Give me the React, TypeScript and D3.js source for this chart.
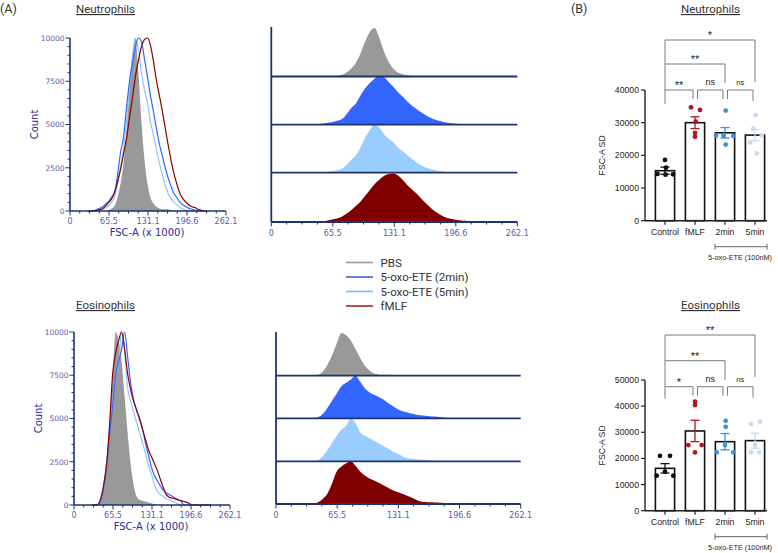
import React from "react";
import * as d3 from "d3";

// ---------- DATA ----------
// FSC-A (x 1000) bin centres
const FSC_BINS = [30, 35, 40, 45, 50, 55, 60, 65, 70, 75, 80, 85, 90, 95, 100, 105, 110, 115, 120, 125, 130, 135, 140, 145, 150, 155, 160, 165, 170, 175, 180, 185, 190, 195, 200, 205, 210, 215, 220, 225, 230];

// Neutrophils: % of mode
const NEU_PBS = [0, 0, 0, 0, 0, 0, 0, 0.5, 1.5, 3, 8, 16, 28, 47, 72, 92, 100, 80, 52, 30, 16, 8, 4.5, 2.5, 1.5, 1, 1, 1, 0.5, 0, 0, 0, 0, 0, 0, 0, 0, 0, 0, 0, 0];
const NEU_2MIN = [0, 0, 0.3, 0.8, 1.5, 2.5, 4, 5.5, 8, 11, 21, 34, 43, 60, 75, 86, 95, 100, 98, 88, 78, 67, 58, 48, 39, 32, 25, 19, 14, 10, 7.5, 5, 3.5, 2.5, 1.5, 1, 0.5, 0, 0, 0, 0];
const NEU_5MIN = [0, 0, 0, 0.3, 0.5, 1, 2, 3, 5, 8, 16, 26, 36, 52, 72, 88, 100, 93, 80, 70, 63, 52, 44, 36, 28, 21, 15, 10, 7, 5, 3.5, 2, 1, 0.5, 0, 0, 0, 0, 0, 0, 0];
const NEU_FMLF = [0, 0, 0, 0.3, 0.8, 1.5, 3, 5, 7, 11, 17, 24, 33, 42, 54, 66, 78, 87, 95, 99, 100, 96, 87, 76, 67, 58, 48, 38, 29, 21, 15, 10, 7, 5, 3.5, 2.5, 2, 1, 0.5, 0, 0];

// Eosinophils: % of mode
const EOS_PBS = [0, 0, 0.3, 2, 9, 25, 48, 75, 100, 95, 83, 63, 42, 24, 12, 5, 3, 2.5, 2, 1.5, 1, 0.5, 0, 0, 0, 0, 0, 0, 0, 0, 0, 0, 0, 0, 0, 0, 0, 0, 0, 0, 0];
const EOS_2MIN = [0, 0, 0.3, 2.5, 10, 24, 41, 58, 75, 83, 90, 100, 86, 71, 61, 55, 50, 44, 36, 29, 22, 17, 14, 11, 8.5, 7, 6, 5, 4, 3, 2, 0, 0, 0, 0, 0, 0, 0, 0, 0, 0];
const EOS_5MIN = [0, 0, 0.5, 2.5, 12, 26, 43, 60, 74, 82, 100, 90, 68, 60, 54, 48, 42, 36, 30, 23, 18, 12, 8, 6, 5, 3.5, 3, 2, 1.5, 0.5, 0, 0, 0, 0, 0, 0, 0, 0, 0, 0, 0];
const EOS_FMLF = [0, 0, 0.3, 4, 12, 24, 48, 76, 88, 95, 100, 90, 76, 67, 60, 55, 50, 44, 38, 32, 28, 24, 20, 15, 10, 6, 4.5, 4, 3.5, 3, 2.5, 2, 1.5, 0.5, 0, 0, 0, 0, 0, 0, 0];

const FSC_TICKS = [0, 65.5, 131.1, 196.6, 262.1];
const FSC_TICK_LABELS = ["0", "65.5", "131.1", "196.6", "262.1"];
const COUNT_TICKS = [0, 2500, 5000, 7500, 10000];

const LEGEND_LABELS = ["PBS", "5-oxo-ETE (2min)", "5-oxo-ETE (5min)", "fMLF"];

const CATEGORIES = ["Control", "fMLF", "2min", "5min"];
const NEU_MEANS = [15300, 30000, 26900, 26200];
const NEU_SEM = [1100, 1800, 1600, 1700];
const NEU_POINTS = [
  [18600, 16200, 14300, 14100, 14200],
  [34700, 33900, 30300, 26900, 25700],
  [33700, 26000, 26100, 25900, 23300],
  [32300, 28200, 26200, 23900, 20600],
];
const NEU_TICKS = [0, 10000, 20000, 30000, 40000];
const NEU_SIG = [
  ["Control", "fMLF", "**"],
  ["fMLF", "2min", "ns"],
  ["2min", "5min", "ns"],
  ["Control", "2min", "**"],
  ["Control", "5min", "*"],
];

const EOS_MEANS = [16200, 30500, 26400, 26800];
const EOS_SEM = [1800, 4100, 3100, 2900];
const EOS_POINTS = [
  [21000, 21000, 14900, 13400, 13400],
  [41700, 40400, 25100, 25100, 22300],
  [34400, 32100, 25100, 22300, 22300],
  [33200, 34100, 25100, 22300, 22300],
];
const EOS_TICKS = [0, 10000, 20000, 30000, 40000, 50000];
const EOS_SIG = [
  ["Control", "fMLF", "*"],
  ["fMLF", "2min", "ns"],
  ["2min", "5min", "ns"],
  ["Control", "2min", "**"],
  ["Control", "5min", "**"],
];

// ---------- STYLE ----------
const NAVY = "#1d3270";
const TICKTXT = "#5a5aae";
const LBLTXT = "#2b2b98";
const HFONT = "DejaVu Sans, Verdana, sans-serif";
const BFONT = "Liberation Sans, Arial, sans-serif";
const TFONT = "Roboto, sans-serif";
const FILL = ["#999999", "#3366ff", "#99ccff", "#800000"];
const LINE = ["#9a9a9a", "#3366ff", "#8ec6ff", "#8b0000"];
const LEG = ["#9a9a9a", "#4060d8", "#6cc0ff", "#9b2a2a"];
const DOT = ["#111111", "#b3161c", "#3d8fe0", "#c5dbf3"];

const MINOR_STEP = 65.525 / 4;

function XAxisTicks({ x, y, labelDy }: any) {
  const minors = d3.range(0, 262.2, MINOR_STEP);
  return (
    <g>
      {minors.map((v, i) => (
        <line key={"m" + i} x1={x(v)} x2={x(v)} y1={y} y2={y + (i % 4 === 0 ? 4.5 : 2.5)} stroke={NAVY} strokeWidth={1} />
      ))}
      {FSC_TICKS.map((v, i) => (
        <text key={"t" + i} x={x(v)} y={y + labelDy} textAnchor="middle" fontFamily={HFONT} fontSize={8} fill={TICKTXT}>
          {FSC_TICK_LABELS[i]}
        </text>
      ))}
    </g>
  );
}

function OverlayHist({ x0, x1, yTop, yBot, series, labelCx }: any) {
  const x = d3.scaleLinear().domain([0, 262.1]).range([x0, x1]);
  const y = d3.scaleLinear().domain([0, 10000]).range([yBot, yTop]);
  const area = d3
    .area<number>()
    .x((_, i) => x(FSC_BINS[i]))
    .y0(yBot)
    .y1((d) => y(d * 100))
    .curve(d3.curveMonotoneX);
  const line = d3
    .line<number>()
    .x((_, i) => x(FSC_BINS[i]))
    .y((d) => y(d * 100))
    .curve(d3.curveMonotoneX);
  const minorY = d3.range(0, 10001, 500);
  return (
    <g>
      <path d={area(series[0]) || ""} fill={FILL[0]} />
      <path d={line(series[2]) || ""} fill="none" stroke={LINE[2]} strokeWidth={1.2} />
      <path d={line(series[1]) || ""} fill="none" stroke={LINE[1]} strokeWidth={1.2} />
      <path d={line(series[3]) || ""} fill="none" stroke={LINE[3]} strokeWidth={1.2} />
      <line x1={x0} x2={x0} y1={yBot} y2={yTop} stroke={NAVY} strokeWidth={1.6} />
      <line x1={x0} x2={x1} y1={yBot} y2={yBot} stroke={NAVY} strokeWidth={1.6} />
      {minorY.map((v, i) => (
        <line key={i} x1={x0 - (v % 2500 === 0 ? 4.5 : 2.5)} x2={x0} y1={y(v)} y2={y(v)} stroke={NAVY} strokeWidth={1} />
      ))}
      {COUNT_TICKS.map((v) => (
        <text key={v} x={x0 - 5.5} y={y(v) + 2.8} textAnchor="end" fontFamily={HFONT} fontSize={7.5} fill={TICKTXT}>
          {v}
        </text>
      ))}
      <XAxisTicks x={x} y={yBot} labelDy={12.5} />
      <text x={labelCx} y={yBot + 24.5} textAnchor="middle" fontFamily={HFONT} fontSize={10} fill={LBLTXT}>
        FSC-A (x 1000)
      </text>
      <text
        transform={`translate(${x0 - 32},${(yTop + yBot) / 2}) rotate(-90)`}
        textAnchor="middle"
        fontFamily={HFONT}
        fontSize={10}
        fill={LBLTXT}
      >
        Count
      </text>
    </g>
  );
}

function StackedHist({ x0, x1, top, baselines, series }: any) {
  const x = d3.scaleLinear().domain([0, 262.1]).range([x0, x1]);
  const stripH = baselines[0] - top;
  return (
    <g>
      {series.map((s: number[], k: number) => {
        const b = baselines[k];
        const y = d3.scaleLinear().domain([0, 100]).range([b, b - stripH]);
        const area = d3
          .area<number>()
          .x((_, i) => x(FSC_BINS[i]))
          .y0(b)
          .y1((d) => y(d))
          .curve(d3.curveMonotoneX);
        return <path key={k} d={area(s) || ""} fill={FILL[k]} />;
      })}
      {baselines.map((b: number, k: number) => (
        <line key={k} x1={x0} x2={x1} y1={b} y2={b} stroke={NAVY} strokeWidth={1.8} />
      ))}
      <line x1={x0} x2={x0} y1={top - 1} y2={baselines[3]} stroke={NAVY} strokeWidth={1.8} />
      <XAxisTicks x={x} y={baselines[3]} labelDy={14} />
    </g>
  );
}

function BarPanel({ yTop, yBot, maxV, ticks, means, sem, points, sig, levels, jitter, title, titleY }: any) {
  const x = d3.scaleBand().domain(CATEGORIES).range([650, 770]).paddingInner(0.36).paddingOuter(0.18);
  const y = d3.scaleLinear().domain([0, maxV]).range([yBot, yTop]);
  const bw = x.bandwidth();
  const cx = (c: string) => (x(c) as number) + bw / 2;
  const brColor = "#7a7a7a";
  return (
    <g>
      <text x={710.5} y={titleY} textAnchor="middle" fontFamily={TFONT} fontSize={11.5} fill="#333" textDecoration="underline">
        {title}
      </text>
      {/* significance brackets */}
      {sig.map((s: string[], i: number) => {
        const lv = levels[i];
        const xa = cx(s[0]) + (s[0] === "Control" ? 0 : 2.5);
        const xb = cx(s[1]) - (i < 3 ? 2 : 0);
        const isNs = s[2] === "ns";
        return (
          <g key={i}>
            <path
              d={`M${xa},${lv.y + lv.l}V${lv.y}H${xb}V${lv.y + lv.r}`}
              fill="none"
              stroke={brColor}
              strokeWidth={1}
            />
            <text
              x={(xa + xb) / 2}
              y={lv.y - (isNs ? 5 : 1)}
              textAnchor="middle"
              fontFamily={BFONT}
              fontSize={isNs ? (i === 2 ? 7.5 : 9) : 11}
              fill="#1a1a1a"
            >
              {s[2]}
            </text>
          </g>
        );
      })}
      {/* bars */}
      {CATEGORIES.map((c, i) => (
        <rect key={c} x={x(c)} y={y(means[i])} width={bw} height={yBot - y(means[i])} fill="#fff" stroke="#111" strokeWidth={1.6} />
      ))}
      {/* points */}
      {CATEGORIES.map((c, i) =>
        points[i].map((v: number, j: number) => (
          <circle key={c + j} cx={cx(c) + jitter[i][j]} cy={y(v)} r={2.4} fill={DOT[i]} />
        ))
      )}
      {/* error bars */}
      {CATEGORIES.map((c, i) => {
        const m = cx(c);
        const t = y(means[i] + sem[i]);
        const b = y(means[i] - sem[i]);
        return (
          <g key={c} stroke={i === 0 ? "#111" : DOT[i]} strokeWidth={1.3}>
            <line x1={m} x2={m} y1={t} y2={b} />
            <line x1={m - 4.5} x2={m + 4.5} y1={t} y2={t} />
            <line x1={m - 4.5} x2={m + 4.5} y1={b} y2={b} />
          </g>
        );
      })}
      {/* axes */}
      <line x1={645} x2={645} y1={yBot} y2={yTop} stroke="#222" strokeWidth={1.4} />
      <line x1={645} x2={767} y1={yBot} y2={yBot} stroke="#222" strokeWidth={1.4} />
      {ticks.map((v: number) => (
        <g key={v}>
          <line x1={641} x2={645} y1={y(v)} y2={y(v)} stroke="#222" strokeWidth={1.2} />
          <text x={639} y={y(v) + 3} textAnchor="end" fontFamily={BFONT} fontSize={8.7} fill="#222">
            {v}
          </text>
        </g>
      ))}
      {CATEGORIES.map((c) => (
        <g key={c}>
          <line x1={cx(c)} x2={cx(c)} y1={yBot} y2={yBot + 4} stroke="#222" strokeWidth={1.2} />
          <text x={cx(c)} y={yBot + 14} textAnchor="middle" fontFamily={BFONT} fontSize={8.7} fill="#222">
            {c}
          </text>
        </g>
      ))}
      <text
        transform={`translate(605,${(yTop + yBot) / 2}) rotate(-90)`}
        textAnchor="middle"
        fontFamily={BFONT}
        fontSize={8.7}
        fill="#222"
      >
        FSC-A  SD
      </text>
      {/* treatment bracket */}
      <g stroke="#666" strokeWidth={1}>
        <line x1={715} x2={767} y1={yBot + 26} y2={yBot + 26} />
        <line x1={715} x2={715} y1={yBot + 23} y2={yBot + 29} />
        <line x1={767} x2={767} y1={yBot + 23} y2={yBot + 29} />
      </g>
      <text x={740} y={yBot + 39} textAnchor="middle" fontFamily={BFONT} fontSize={7.3} fill="#222">
        5-oxo-ETE (100nM)
      </text>
    </g>
  );
}

export default function App() {
  const neu = [NEU_PBS, NEU_2MIN, NEU_5MIN, NEU_FMLF];
  const eos = [EOS_PBS, EOS_2MIN, EOS_5MIN, EOS_FMLF];
  const neuLevels = [
    { y: 90, l: 14, r: 9 },
    { y: 90, l: 9, r: 9 },
    { y: 90, l: 9, r: 11 },
    { y: 64, l: 26, r: 19 },
    { y: 40, l: 24, r: 42 },
  ];
  const eosLevels = [
    { y: 386.7, l: 12, r: 9 },
    { y: 386.7, l: 9, r: 9 },
    { y: 386.7, l: 9, r: 11 },
    { y: 360.7, l: 26, r: 19 },
    { y: 335, l: 25.7, r: 42 },
  ];
  const neuJit = [
    [0, 1, -7.5, 0.5, 8],
    [-4, 5, 0.7, 0, 0],
    [0.7, -1.5, -9, 8.3, 0.7],
    [0.7, -1.7, 6.7, -5, 1.7],
  ];
  const eosJit = [
    [-5, 5, 0, -8.3, 8.3],
    [0, 0, -6.7, 6.7, 0],
    [0.7, 0.7, 0, -8.3, 8.3],
    [-4, 5, 0, -4, 4.3],
  ];
  return (
    <svg width={778} height={553} style={{ position: "absolute", left: 0, top: 0, background: "#fff" }}>
      <rect width={778} height={553} fill="#fff" />
      <text x={0} y={13} fontFamily={TFONT} fontSize={12.5} fill="#333">(A)</text>
      <text x={571} y={13} fontFamily={TFONT} fontSize={12.5} fill="#333">(B)</text>
      <text x={105.5} y={13} textAnchor="middle" fontFamily={TFONT} fontSize={11.5} fill="#333" textDecoration="underline">
        Neutrophils
      </text>
      <text x={105.5} y={309} textAnchor="middle" fontFamily={TFONT} fontSize={11.5} fill="#333" textDecoration="underline">
        Eosinophils
      </text>

      <OverlayHist x0={70} x1={226} yTop={38} yBot={211} series={neu} labelCx={147} />
      <OverlayHist x0={74} x1={230} yTop={332} yBot={505} series={eos} labelCx={151} />

      <StackedHist x0={271.3} x1={517.3} top={28} baselines={[76.5, 124.7, 172.7, 222]} series={neu} />
      <StackedHist x0={276} x1={520.7} top={333} baselines={[375.7, 418.3, 461.3, 504]} series={eos} />

      {/* legend */}
      {LEGEND_LABELS.map((l, i) => {
        const yy = 262.5 + i * 14.5;
        return (
          <g key={l}>
            <line x1={346} x2={373} y1={yy} y2={yy} stroke={LEG[i]} strokeWidth={1.6} />
            <text x={380.5} y={yy + 4} fontFamily={TFONT} fontSize={11.5} fill="#333">
              {l}
            </text>
          </g>
        );
      })}

      <BarPanel
        yTop={90}
        yBot={220.7}
        maxV={40000}
        ticks={NEU_TICKS}
        means={NEU_MEANS}
        sem={NEU_SEM}
        points={NEU_POINTS}
        sig={NEU_SIG}
        levels={neuLevels}
        jitter={neuJit}
        title="Neutrophils"
        titleY={13}
      />
      <BarPanel
        yTop={380}
        yBot={510.7}
        maxV={50000}
        ticks={EOS_TICKS}
        means={EOS_MEANS}
        sem={EOS_SEM}
        points={EOS_POINTS}
        sig={EOS_SIG}
        levels={eosLevels}
        jitter={eosJit}
        title="Eosinophils"
        titleY={309}
      />
    </svg>
  );
}
